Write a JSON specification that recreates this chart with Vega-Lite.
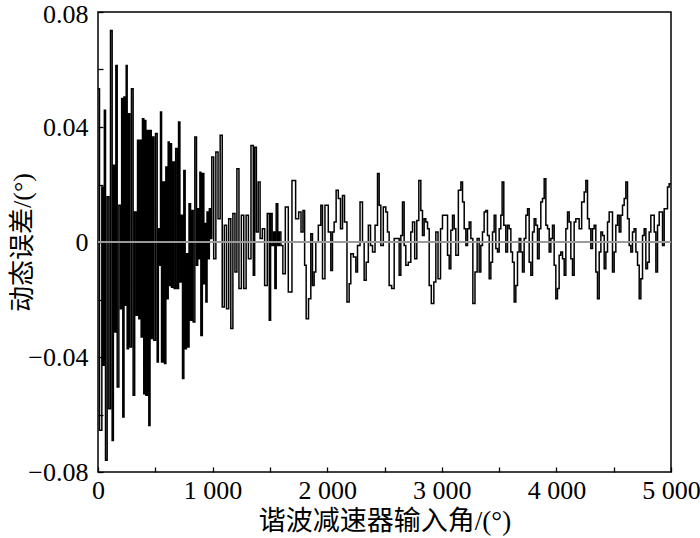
{
  "$schema": "https://vega.github.io/schema/vega-lite/v6.json",
  "width": 573,
  "height": 460,
  "autosize": {"type": "none"},
  "padding": {"left": 98, "top": 12, "right": 29, "bottom": 66},
  "background": "#ffffff",
  "config": {
    "view": {"stroke": "#000000", "strokeWidth": 1.5},
    "axis": {
      "grid": false,
      "domain": false,
      "ticks": true,
      "labelFont": "Liberation Serif",
      "labelFontSize": 26,
      "labelColor": "#000000",
      "tickColor": "#000000",
      "tickWidth": 1.3,
      "tickSize": 5,
      "offset": -5,
      "labelOverlap": false,
      "labelFlush": false,
      "titleFont": "Liberation Serif, Noto Sans CJK SC",
      "titleFontWeight": "normal",
      "titleColor": "#000000"
    }
  },
  "data": {
    "values": [
      {"x": 0, "y": 0.0533}, {"x": 26, "y": -0.0655}, {"x": 41, "y": 0.0191}, {"x": 50, "y": -0.0429},
      {"x": 61, "y": 0.0458}, {"x": 70, "y": -0.0759}, {"x": 90, "y": 0.0157}, {"x": 99, "y": -0.058},
      {"x": 119, "y": 0.0736}, {"x": 128, "y": -0.069}, {"x": 140, "y": 0.0267}, {"x": 149, "y": -0.0313},
      {"x": 163, "y": 0.0614}, {"x": 172, "y": -0.0504}, {"x": 192, "y": 0.0128}, {"x": 201, "y": -0.0232},
      {"x": 212, "y": 0.0499}, {"x": 221, "y": -0.0609}, {"x": 233, "y": 0.0504}, {"x": 242, "y": -0.022},
      {"x": 250, "y": 0.0614}, {"x": 259, "y": -0.0371}, {"x": 273, "y": 0.0446}, {"x": 282, "y": -0.0365},
      {"x": 302, "y": 0.0533}, {"x": 311, "y": -0.0533}, {"x": 329, "y": 0.0104}, {"x": 338, "y": -0.0255},
      {"x": 352, "y": 0.0354}, {"x": 361, "y": -0.0267}, {"x": 372, "y": 0.0354}, {"x": 381, "y": -0.033},
      {"x": 395, "y": 0.0429}, {"x": 404, "y": -0.0528}, {"x": 413, "y": 0.0423}, {"x": 422, "y": -0.0533},
      {"x": 439, "y": 0.0388}, {"x": 448, "y": -0.0638}, {"x": 460, "y": 0.0388}, {"x": 469, "y": -0.0336},
      {"x": 483, "y": 0.0365}, {"x": 492, "y": -0.0342}, {"x": 512, "y": 0.0377}, {"x": 521, "y": -0.0417},
      {"x": 532, "y": 0.0046}, {"x": 541, "y": -0.0081}, {"x": 550, "y": 0.0452}, {"x": 559, "y": -0.0417},
      {"x": 576, "y": 0.0209}, {"x": 585, "y": -0.0423}, {"x": 599, "y": 0.0261}, {"x": 608, "y": -0.0197},
      {"x": 617, "y": 0.0348}, {"x": 626, "y": -0.0151}, {"x": 637, "y": 0.0342}, {"x": 646, "y": -0.0157},
      {"x": 660, "y": 0.0278}, {"x": 669, "y": -0.0162}, {"x": 687, "y": 0.0325}, {"x": 696, "y": -0.0162},
      {"x": 710, "y": 0.0417}, {"x": 719, "y": -0.0139}, {"x": 733, "y": 0.0093}, {"x": 742, "y": -0.0475},
      {"x": 756, "y": 0.0249}, {"x": 765, "y": -0.0371}, {"x": 777, "y": -0.0041}, {"x": 786, "y": -0.0365},
      {"x": 803, "y": 0.0133}, {"x": 812, "y": -0.0272}, {"x": 826, "y": 0.011}, {"x": 835, "y": -0.0278},
      {"x": 855, "y": 0.0365}, {"x": 864, "y": -0.0081}, {"x": 876, "y": 0.0116}, {"x": 885, "y": -0.0058},
      {"x": 893, "y": 0.0243}, {"x": 902, "y": -0.0325}, {"x": 919, "y": 0.0238}, {"x": 928, "y": -0.0145},
      {"x": 937, "y": 0.0064}, {"x": 946, "y": -0.0209}, {"x": 957, "y": 0.0104}, {"x": 966, "y": -0.0058},
      {"x": 977, "y": 0.0116}, {"x": 986, "y": 0.0012},
      {"x": 1000, "y": 0.0296}, {"x": 1019, "y": -0.0058}, {"x": 1038, "y": 0.0313}, {"x": 1057, "y": 0.0081},
      {"x": 1075, "y": 0.0371}, {"x": 1093, "y": -0.0226}, {"x": 1112, "y": 0.0058}, {"x": 1131, "y": -0.0232},
      {"x": 1150, "y": 0.0081}, {"x": 1168, "y": -0.0301}, {"x": 1186, "y": 0.0099}, {"x": 1204, "y": -0.0104},
      {"x": 1220, "y": 0.0255}, {"x": 1240, "y": -0.0162}, {"x": 1262, "y": 0.0093}, {"x": 1282, "y": -0.0162},
      {"x": 1303, "y": 0.0093}, {"x": 1322, "y": -0.0058}, {"x": 1348, "y": 0.0336}, {"x": 1362, "y": -0.0116},
      {"x": 1372, "y": 0.033}, {"x": 1392, "y": 0.0035}, {"x": 1404, "y": 0.0209}, {"x": 1425, "y": 0.0012},
      {"x": 1443, "y": 0.0046}, {"x": 1465, "y": -0.0151}, {"x": 1489, "y": 0.0099}, {"x": 1500, "y": -0.0272},
      {"x": 1512, "y": 0.0099}, {"x": 1527, "y": -0.0012}, {"x": 1539, "y": 0.0035}, {"x": 1548, "y": -0.0162},
      {"x": 1562, "y": 0.0133}, {"x": 1575, "y": -0.0012},
      {"x": 1588, "y": 0.0035}, {"x": 1603, "y": -0.0012}, {"x": 1623, "y": -0.011}, {"x": 1646, "y": 0.0122},
      {"x": 1675, "y": -0.0174}, {"x": 1710, "y": 0.0214}, {"x": 1739, "y": 0.0081}, {"x": 1763, "y": 0.0104},
      {"x": 1780, "y": 0.0035}, {"x": 1797, "y": 0.011}, {"x": 1809, "y": -0.0081}, {"x": 1824, "y": -0.0267},
      {"x": 1850, "y": -0.0197}, {"x": 1864, "y": 0.0029}, {"x": 1879, "y": -0.0151}, {"x": 1893, "y": -0.0104},
      {"x": 1908, "y": 0}, {"x": 1937, "y": 0.0058}, {"x": 1952, "y": 0.0128}, {"x": 1966, "y": -0.0128},
      {"x": 1995, "y": 0.0128}, {"x": 2024, "y": 0.0035}, {"x": 2039, "y": -0.0099}, {"x": 2053, "y": 0.0035},
      {"x": 2068, "y": 0.007}, {"x": 2088, "y": 0.018}, {"x": 2106, "y": 0.0151}, {"x": 2126, "y": 0.0046},
      {"x": 2141, "y": 0.0162}, {"x": 2161, "y": 0.007}, {"x": 2184, "y": -0.0209}, {"x": 2199, "y": -0.0145},
      {"x": 2213, "y": -0.0041}, {"x": 2243, "y": -0.0052}, {"x": 2257, "y": -0.0104}, {"x": 2272, "y": -0.0012},
      {"x": 2301, "y": 0.0139}, {"x": 2315, "y": 0}, {"x": 2330, "y": -0.0133}, {"x": 2350, "y": -0.007},
      {"x": 2368, "y": 0.0058}, {"x": 2388, "y": -0.0012}, {"x": 2403, "y": -0.0035}, {"x": 2432, "y": 0.0058},
      {"x": 2446, "y": 0.0238}, {"x": 2461, "y": 0.0128}, {"x": 2475, "y": -0.0012}, {"x": 2504, "y": 0.0122},
      {"x": 2519, "y": 0.0104}, {"x": 2533, "y": 0.0035}, {"x": 2548, "y": -0.0151}, {"x": 2577, "y": -0.0162},
      {"x": 2592, "y": 0.0012}, {"x": 2621, "y": 0.0012}, {"x": 2635, "y": -0.0116}, {"x": 2650, "y": 0.0023},
      {"x": 2664, "y": 0.0139}, {"x": 2679, "y": -0.0012}, {"x": 2693, "y": -0.0081}, {"x": 2722, "y": -0.007},
      {"x": 2737, "y": 0.0035}, {"x": 2752, "y": 0.007}, {"x": 2775, "y": -0.0058}, {"x": 2789, "y": 0.0075},
      {"x": 2810, "y": 0.0214}, {"x": 2824, "y": 0.011}, {"x": 2839, "y": 0.0023}, {"x": 2853, "y": 0.0081},
      {"x": 2868, "y": 0.007}, {"x": 2883, "y": 0.0046}, {"x": 2897, "y": -0.0151}, {"x": 2920, "y": -0.0214},
      {"x": 2941, "y": -0.0139}, {"x": 2955, "y": 0.0035}, {"x": 2979, "y": -0.0128}, {"x": 2999, "y": 0.0046},
      {"x": 3013, "y": 0.0093}, {"x": 3043, "y": 0.0093}, {"x": 3057, "y": -0.0046}, {"x": 3072, "y": -0.0093},
      {"x": 3086, "y": 0.0041}, {"x": 3101, "y": 0.0093}, {"x": 3115, "y": 0.0046}, {"x": 3130, "y": -0.0046},
      {"x": 3159, "y": 0.018}, {"x": 3174, "y": 0.0209}, {"x": 3188, "y": 0.0139}, {"x": 3203, "y": 0.0046},
      {"x": 3217, "y": -0.0012}, {"x": 3232, "y": 0.0046}, {"x": 3246, "y": 0.007},
      {"x": 3261, "y": 0.0012}, {"x": 3281, "y": -0.0214}, {"x": 3298, "y": -0.0104}, {"x": 3319, "y": 0.0012},
      {"x": 3333, "y": -0.0104}, {"x": 3348, "y": -0.0012}, {"x": 3362, "y": 0.0035}, {"x": 3377, "y": 0.0104},
      {"x": 3391, "y": 0.011}, {"x": 3406, "y": 0.0023}, {"x": 3421, "y": -0.0128}, {"x": 3435, "y": -0.007},
      {"x": 3450, "y": 0.0035}, {"x": 3464, "y": 0.0093}, {"x": 3479, "y": -0.0023}, {"x": 3493, "y": -0.0035},
      {"x": 3508, "y": 0.0046}, {"x": 3522, "y": 0.0093}, {"x": 3531, "y": 0.0209}, {"x": 3551, "y": 0.0058},
      {"x": 3566, "y": -0.0035}, {"x": 3581, "y": 0.0058}, {"x": 3595, "y": 0.0046}, {"x": 3610, "y": -0.0035},
      {"x": 3624, "y": -0.007}, {"x": 3639, "y": -0.0209}, {"x": 3653, "y": -0.0151}, {"x": 3668, "y": -0.0035},
      {"x": 3682, "y": 0.0012}, {"x": 3697, "y": -0.0035}, {"x": 3711, "y": -0.0104}, {"x": 3726, "y": 0.0012},
      {"x": 3741, "y": 0.0093}, {"x": 3755, "y": 0.0116}, {"x": 3770, "y": -0.007}, {"x": 3784, "y": -0.0116},
      {"x": 3799, "y": 0.0035}, {"x": 3813, "y": 0.0081}, {"x": 3828, "y": 0.0058}, {"x": 3842, "y": -0.0058},
      {"x": 3857, "y": 0.0046}, {"x": 3871, "y": 0.0139}, {"x": 3886, "y": 0.0151}, {"x": 3901, "y": 0.022},
      {"x": 3915, "y": 0.0058}, {"x": 3930, "y": 0.0046}, {"x": 3944, "y": -0.0035}, {"x": 3959, "y": 0.0012},
      {"x": 3973, "y": 0.0058}, {"x": 3988, "y": -0.0081}, {"x": 4002, "y": -0.0197}, {"x": 4017, "y": -0.0162},
      {"x": 4031, "y": -0.0046}, {"x": 4046, "y": -0.0035}, {"x": 4061, "y": -0.0058}, {"x": 4075, "y": -0.0116},
      {"x": 4090, "y": 0.0046}, {"x": 4104, "y": 0.0104}, {"x": 4119, "y": 0.007}, {"x": 4133, "y": -0.0058},
      {"x": 4148, "y": -0.0116}, {"x": 4162, "y": 0.007}, {"x": 4177, "y": 0.0081}, {"x": 4191, "y": 0.0081},
      {"x": 4206, "y": 0.0046}, {"x": 4235, "y": 0.0139}, {"x": 4250, "y": 0.0174}, {"x": 4264, "y": 0.0214},
      {"x": 4279, "y": 0.0081}, {"x": 4293, "y": 0.0046}, {"x": 4308, "y": -0.0023}, {"x": 4322, "y": 0.0046},
      {"x": 4337, "y": 0.0058}, {"x": 4351, "y": -0.0104}, {"x": 4366, "y": -0.0197}, {"x": 4381, "y": -0.0035},
      {"x": 4395, "y": 0.0035}, {"x": 4410, "y": 0.0023}, {"x": 4424, "y": -0.0093}, {"x": 4439, "y": -0.0035},
      {"x": 4453, "y": 0.007}, {"x": 4468, "y": 0.0104}, {"x": 4482, "y": 0.0104}, {"x": 4497, "y": -0.0104},
      {"x": 4511, "y": -0.0035}, {"x": 4526, "y": 0.0058}, {"x": 4541, "y": 0.0093}, {"x": 4555, "y": 0.0035},
      {"x": 4570, "y": 0.0093}, {"x": 4584, "y": 0.0128}, {"x": 4599, "y": 0.0151}, {"x": 4613, "y": 0.0209},
      {"x": 4628, "y": 0.0081}, {"x": 4642, "y": -0.0012}, {"x": 4657, "y": -0.0035}, {"x": 4671, "y": 0.0035},
      {"x": 4686, "y": 0.0046}, {"x": 4701, "y": -0.0035}, {"x": 4715, "y": -0.0081}, {"x": 4730, "y": -0.0197},
      {"x": 4744, "y": -0.0128}, {"x": 4759, "y": 0.0023}, {"x": 4773, "y": 0.0046}, {"x": 4788, "y": -0.0093},
      {"x": 4802, "y": -0.007}, {"x": 4817, "y": 0.0035}, {"x": 4831, "y": 0.0093}, {"x": 4846, "y": 0.0093},
      {"x": 4861, "y": 0.0035}, {"x": 4875, "y": -0.0104}, {"x": 4890, "y": 0.0058}, {"x": 4904, "y": 0.0104},
      {"x": 4919, "y": 0.0104}, {"x": 4933, "y": -0.0012}, {"x": 4948, "y": 0.0116}, {"x": 4962, "y": 0.0116},
      {"x": 4977, "y": 0.0191}, {"x": 4991, "y": 0.0203}, {"x": 5000, "y": 0.0203}
    ]
  },
  "layer": [
    {
      "mark": {"type": "line", "interpolate": "step", "color": "#000000", "strokeWidth": 1.5},
      "encoding": {
        "x": {
          "field": "x",
          "type": "quantitative",
          "scale": {"domain": [0, 5000], "nice": false, "zero": false},
          "axis": {
            "values": [0, 500, 1000, 1500, 2000, 2500, 3000, 3500, 4000, 4500, 5000],
            "labelExpr": "datum.value % 1000 == 0 ? replace(format(datum.value, ','), ',', ' ') : ''",
            "labelPadding": 5,
            "title": "谐波减速器输入角/(°)",
            "titleFontSize": 27,
            "titleBaseline": "middle",
            "titleY": 54
          }
        },
        "y": {
          "field": "y",
          "type": "quantitative",
          "scale": {"domain": [-0.08, 0.08], "nice": false, "zero": false},
          "axis": {
            "values": [-0.08, -0.06, -0.04, -0.02, 0, 0.02, 0.04, 0.06, 0.08],
            "labelExpr": "abs(round(datum.value * 100)) % 4 == 0 ? (datum.value == 0 ? '0' : format(datum.value, '.2f')) : ''",
            "labelOffset": {"condition": {"test": "datum.value > 0.07", "value": 2}, "value": 0},
            "labelPadding": 10,
            "title": "动态误差/(°)",
            "titleFontSize": 26,
            "titleBaseline": "middle",
            "titleX": -81
          }
        }
      }
    },
    {
      "mark": {"type": "rule", "color": "#999999", "strokeWidth": 1.2},
      "encoding": {"y": {"datum": 0, "type": "quantitative"}}
    }
  ]
}
